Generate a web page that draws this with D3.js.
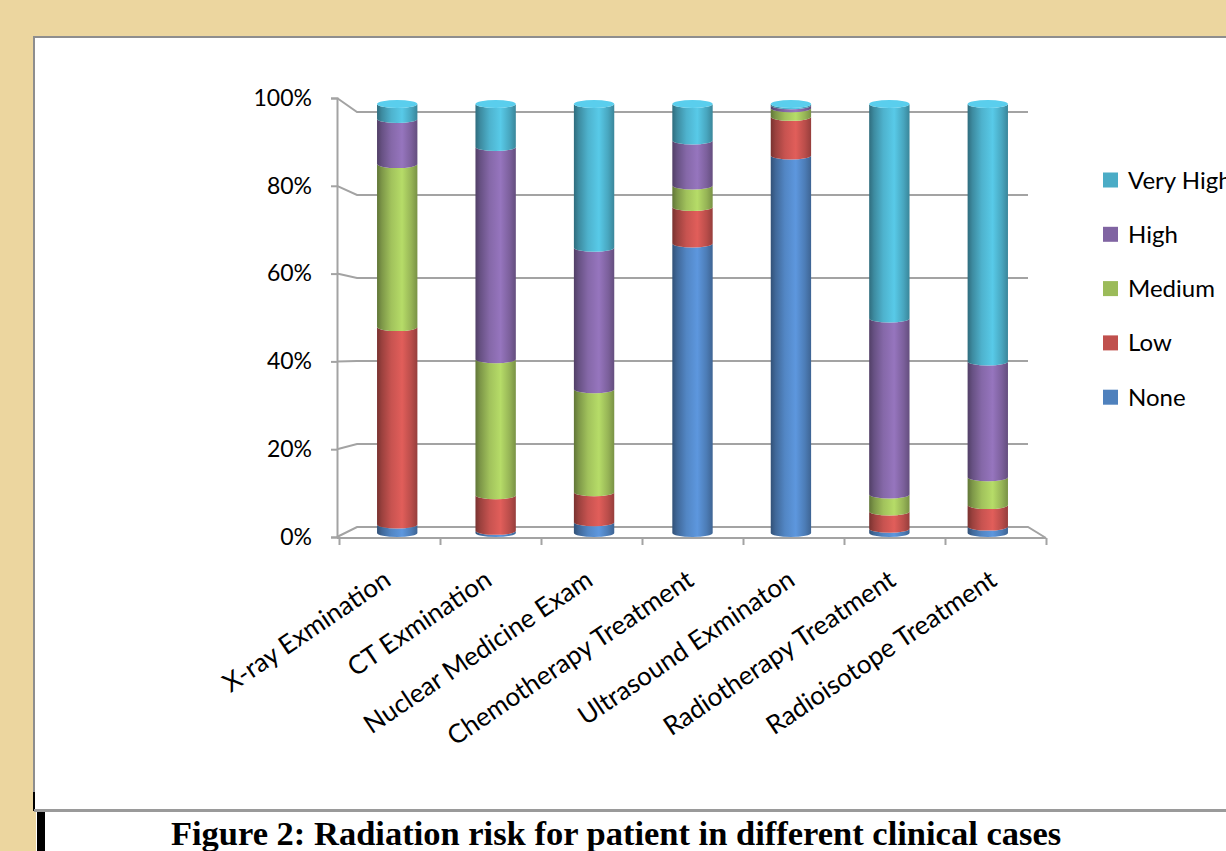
<!DOCTYPE html>
<html>
<head>
<meta charset="utf-8">
<script src="https://cdn.jsdelivr.net/npm/d3@7"></script>
<style>
body{margin:0;background:#ecd69f;overflow:hidden}
svg{display:block}
</style>
</head>
<body>
<div id="graph"></div>
<script>
// values, percent of each case
var categories = ['X-ray Exmination', 'CT Exmination', 'Nuclear Medicine Exam', 'Chemotherapy Treatment', 'Ultrasound Exminaton', 'Radiotherapy Treatment', 'Radioisotope Treatment']
var keys = ['None', 'Low', 'Medium', 'High', 'Very High']
var none     = [2,    0.5,  2.5,  67.5, 88,  1,  1.5]
var low      = [46,   8.3,  7,    8.5,  9,   4,  5]
var medium   = [38,   31.7, 24,   5,    2,   4,  6.5]
var high     = [10.5, 49.5, 33,   10.5, 0.7, 41, 27]
var veryHigh = [3.5,  10,   33.5, 8.5,  0.3, 50, 60]
var colors = ['#4f81bd', '#c0504d', '#9bbb59', '#8064a2', '#4bacc6']
var yTicks = [0, 0.2, 0.4, 0.6, 0.8, 1]
var caption = 'Figure 2: Radiation risk for patient in different clinical cases'

var rows = categories.map((name, i) => ({
  name,
  'None': none[i], 'Low': low[i], 'Medium': medium[i], 'High': high[i], 'Very High': veryHigh[i]
}))

var series = d3.stack().keys(keys).offset(d3.stackOffsetExpand)(rows)

var width = 1226, height = 851
var svg = d3.select('#graph').append('svg').attr('width', width).attr('height', height)
var font = 'Lato, "Open Sans", sans-serif'

// paper background + white panel
svg.append('rect').attr('width', width).attr('height', height).attr('fill', '#ecd69f')
svg.append('rect').attr('x', 34).attr('y', 37).attr('width', width).attr('height', 773)
  .attr('fill', '#fff').attr('stroke', '#8e8e8e').attr('stroke-width', 2)
svg.append('rect').attr('x', 36).attr('y', 812).attr('width', width).attr('height', 40).attr('fill', '#fff')
svg.append('rect').attr('x', 37).attr('y', 811).attr('width', 8).attr('height', 40).attr('fill', '#000')
svg.append('rect').attr('x', 33).attr('y', 792).attr('width', 2).attr('height', 19).attr('fill', '#000')
svg.append('line').attr('x1', 34).attr('x2', width).attr('y1', 810.5).attr('y2', 810.5)
  .attr('stroke', '#9a9a9a').attr('stroke-width', 3)

// front (axis), back wall and bar scales - fake 3d perspective
var xFront = d3.scaleBand().domain(categories).range([339, 1046])
var xIdx = d3.scaleLinear().domain([0, 7]).range([339, 1046])
var xBar = d3.scaleBand().domain(categories).range([348, 1037]).paddingInner(0.59).paddingOuter(0.295)
var yFront = d3.scaleLinear().domain([0, 1]).range([537, 98])
var yBack = d3.scaleLinear().domain([0, 1]).range([527, 112])
var yBar = d3.scaleLinear().domain([0, 1]).range([533, 104])
var backL = 357, backR = 1028

// gridlines on back wall
svg.append('g').selectAll('path').data(yTicks).join('path')
  .attr('d', d => `M337,${yFront(d)}L${backL},${yBack(d)}L${backR},${yBack(d)}` + (d == 0 ? `L1046,538` : ''))
  .attr('fill', 'none').attr('stroke', '#a3a3a3').attr('stroke-width', 2)

// y axis
var yAxis = svg.append('g').attr('transform', 'translate(337,0)')
  .call(d3.axisLeft(yFront).tickValues(yTicks).tickFormat(d3.format('.0%')).tickSize(6).tickPadding(19))
yAxis.select('.domain').attr('stroke', '#a3a3a3').attr('stroke-width', 2)
yAxis.selectAll('.tick line').attr('stroke', '#a3a3a3').attr('stroke-width', 2)
yAxis.selectAll('text').attr('font-family', font).attr('font-size', 23).attr('fill', '#000')

// x axis: tick marks between categories
var xAxis = svg.append('g').attr('transform', 'translate(0,538)')
  .call(d3.axisBottom(xIdx).tickValues(d3.range(8)).tickFormat('').tickSize(7).tickSizeOuter(0))
xAxis.select('.domain').attr('stroke', '#a3a3a3').attr('stroke-width', 2).attr('d', 'M337,0H1046')
xAxis.selectAll('.tick line').attr('stroke', '#a3a3a3').attr('stroke-width', 2)

svg.append('g').selectAll('text').data(categories).join('text')
  .attr('transform', d => `translate(${xFront(d) + xFront.bandwidth()/2 + 3},584) rotate(-34)`)
  .attr('text-anchor', 'end')
  .attr('font-family', font).attr('font-size', 26).attr('fill', '#000')
  .text(d => d)

// cylinder shading
var defs = svg.append('defs')
colors.forEach((c, i) => {
  var g = defs.append('linearGradient').attr('id', 'cyl' + i).attr('x1', 0).attr('x2', 1).attr('y1', 0).attr('y2', 0)
  var col = d3.color(c)
  ;[[0, col.darker(1.3)], [0.12, col.darker(0.6)], [0.35, col.brighter(0.1)], [0.62, col.brighter(0.45)],
    [0.85, col.darker(0.1)], [1, col.darker(0.7)]]
    .forEach(([o, s]) => g.append('stop').attr('offset', o).attr('stop-color', s))
})

var ry = 4
function seg(x0, w, yt, yb){
  var rx = w/2
  return `M${x0},${yt}A${rx},${ry} 0 0 0 ${x0 + w},${yt}L${x0 + w},${yb}A${rx},${ry} 0 0 1 ${x0},${yb}Z`
}

var bars = svg.append('g')
bars.selectAll('g').data(series).join('g')
  .attr('fill', (d, i) => `url(#cyl${i})`)
  .selectAll('path').data(d => d).join('path')
  .attr('d', d => seg(xBar(d.data.name), xBar.bandwidth(), yBar(d[1]), yBar(d[0])))

// top caps, coloured like the top visible segment
bars.append('g').selectAll('ellipse').data(rows).join('ellipse')
  .attr('cx', d => xBar(d.name) + xBar.bandwidth()/2)
  .attr('cy', yBar(1))
  .attr('rx', xBar.bandwidth()/2).attr('ry', ry)
  .attr('fill', d => {
    var top = keys.map((k, i) => i).filter(i => d[keys[i]] > 0.25).pop()
    return d3.color(colors[top]).brighter(0.5)
  })

// legend
var legend = svg.append('g').selectAll('g').data(keys.slice().reverse()).join('g')
  .attr('transform', (d, i) => `translate(1103,${180 + i*54.3})`)
legend.append('rect').attr('y', -7.5).attr('width', 15).attr('height', 15)
  .attr('fill', d => colors[keys.indexOf(d)])
legend.append('text').attr('x', 25).attr('y', 8.5)
  .attr('font-family', font).attr('font-size', 24).attr('fill', '#000')
  .text(d => d)

// caption
svg.append('text').attr('x', 616).attr('y', 845).attr('text-anchor', 'middle')
  .attr('font-family', '"Liberation Serif", "Times New Roman", serif').attr('font-weight', 'bold')
  .attr('font-size', 34.5).attr('fill', '#000')
  .text(caption)
</script>
</body>
</html>
